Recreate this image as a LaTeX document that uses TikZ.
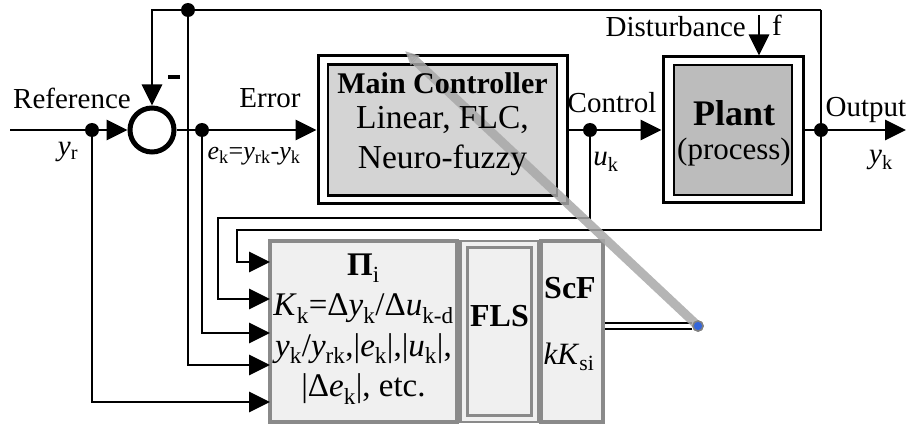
\documentclass[tikz,border=0pt]{standalone}
\usepackage{fontspec}
\setmainfont{Liberation Serif}
\usetikzlibrary{arrows.meta}
\definecolor{mcfill}{HTML}{D4D4D4}
\definecolor{plfill}{HTML}{BCBCBC}
\definecolor{lowfill}{HTML}{F0F0F0}
\definecolor{lowline}{HTML}{8A8A8A}
\definecolor{pointer}{HTML}{A8A8A8}
\definecolor{bluedot}{HTML}{3366DD}
\newcommand{\sbs}[1]{\textsubscript{#1}}
\begin{document}
\begin{tikzpicture}[x=1pt,y=-1pt,
  sig/.style={line width=2.8pt},
  arr/.style={sig,-{Triangle[length=21pt,width=20pt]}},
  dot/.style={circle,fill=black,inner sep=0pt,minimum size=14pt},
  lbl/.style={font=\fontsize{29}{34}\selectfont,inner sep=0pt},
  outerbox/.style={draw,line width=3pt,inner sep=0pt},
  innerbox/.style={draw,line width=2.5pt,inner sep=0pt},
  lowbox/.style={draw=lowline,fill=lowfill,line width=4pt,inner sep=0pt,minimum height=181pt}]
\useasboundingbox (0,0) rectangle (906,425);

% main controller (double border)
\node[outerbox,minimum width=249pt,minimum height=148pt] (mcout) at (442.5,130) {};
\node[innerbox,fill=mcfill,minimum width=229pt,minimum height=131pt] (mc) at (442.5,130) {};

% plant (double border)
\node[outerbox,minimum width=140pt,minimum height=146pt] (plout) at (733,130) {};
\node[innerbox,fill=plfill,minimum width=118pt,minimum height=130pt] (pl) at (733,130) {};

% summing junction
\node[circle,draw,line width=5pt,minimum size=44pt,inner sep=0pt] (sum) at (152,130) {};
\draw[line width=4pt] (168,77) -- (180,77);

% tuning blocks
\node[lowbox,minimum width=187pt] (pib) at (363.5,331.5) {};
\node[lowbox,line width=2.5pt,minimum width=78pt] (flsout) at (499.5,331.5) {};
\node[draw=lowline,line width=3pt,minimum width=64pt,minimum height=167pt,inner sep=0pt] (fls) at (499.5,331.5) {};
\node[lowbox,minimum width=62pt] (scf) at (572,331.5) {};

% junction points and free ends
\coordinate (refin) at (10,130);
\coordinate (fbl) at (152,10);
\coordinate (fbr) at (821,10);
\coordinate (outend) at (906,130);
\coordinate (dist) at (759,15);
\coordinate (in1) at (270,262);
\coordinate (in2) at (270,299);
\coordinate (in3) at (270,333);
\coordinate (in4) at (270,365);
\coordinate (in5) at (270,402);
\node[dot] (dr) at (92,130) {};
\node[dot] (dfb) at (188,10) {};
\node[dot] (de) at (202,130) {};
\node[dot] (du) at (590,130) {};
\node[dot] (dout) at (821,130) {};

% signal connectors
\draw[arr] (refin) -- (sum.west);
\draw[arr] (sum.east) -- (mcout.west);
\draw[arr] (mcout.east) -- (plout.west);
\draw[arr] (plout.east) -- (outend);
\draw[arr] (dist) -- (dist |- plout.north);
\draw[arr] (fbr) -- (fbl) -- (sum.north);
\draw[sig] (fbr) -- (dout);
\draw[arr] (dout) |- (237,230) |- (in1);
\draw[arr] (du) |- (218,218) |- (in2);
\draw[arr] (de) |- (in3);
\draw[arr] (dfb) |- (in4);
\draw[arr] (dr) |- (in5);

% scaling output and tuning pointer
\node[circle,fill=bluedot,draw=gray,line width=1.5pt,minimum size=10pt,inner sep=0pt] (bd) at (698,326) {};
\draw[line width=2pt,double=white,double distance=4pt] (scf.east |- bd) -- (bd.west);
\coordinate (tip) at (405,51);
\draw[pointer,opacity=0.85,line width=9pt,-{Triangle[length=14pt,width=12pt]}] (bd.center) -- (tip);
\node[circle,fill=bluedot,draw=gray,line width=1.5pt,minimum size=10pt,inner sep=0pt] at (bd) {};

% block texts
\node[font=\fontsize{30}{34}\selectfont\bfseries] at (442.5,83) {Main Controller};
\node[align=center,font=\fontsize{33.5}{40}\selectfont] at (442.5,141) {Linear, FLC,\\Neuro-fuzzy};
\node[font=\fontsize{36}{40}\selectfont\bfseries] at (734,113) {Plant};
\node[font=\fontsize{31}{36}\selectfont] at (734,152) {(process)};
\node[align=center,font=\fontsize{33}{40.5}\selectfont] at (363.5,329) {%
  \textbf{Π}\sbs{i}\\
  \textit{K}\sbs{k}=Δ\textit{y}\sbs{k}/Δ\textit{u}\sbs{k-d}\\
  \textit{y}\sbs{k}/\textit{y}\sbs{rk},|\textit{e}\sbs{k}|,|\textit{u}\sbs{k}|,\\
  |Δ\textit{e}\sbs{k}|, etc.};
\node[font=\fontsize{32}{36}\selectfont\bfseries] at (499.5,316) {FLS};
\node[font=\fontsize{32}{36}\selectfont\bfseries] at (570,288) {ScF};
\node[font=\fontsize{31}{36}\selectfont,inner sep=0pt] at (569,357) {\textit{kK}\sbs{si}};

% signal labels
\node[lbl] at (72,98) {Reference};
\node[lbl] at (68,152) {\textit{y}\sbs{r}};
\node[lbl] at (270,98) {Error};
\node[font=\fontsize{26}{30}\selectfont,inner sep=0pt] at (254,156) {\textit{e}\sbs{k}=\textit{y}\sbs{rk}-\textit{y}\sbs{k}};
\node[lbl] at (612,103) {Control};
\node[lbl] at (606,162) {\textit{u}\sbs{k}};
\node[lbl] at (866,110) {Output};
\node[lbl] at (881,160) {\textit{y}\sbs{k}};
\node[lbl,anchor=east] at (746,27) {Disturbance};
\node[lbl] at (777,25) {f};
\end{tikzpicture}
\end{document}
